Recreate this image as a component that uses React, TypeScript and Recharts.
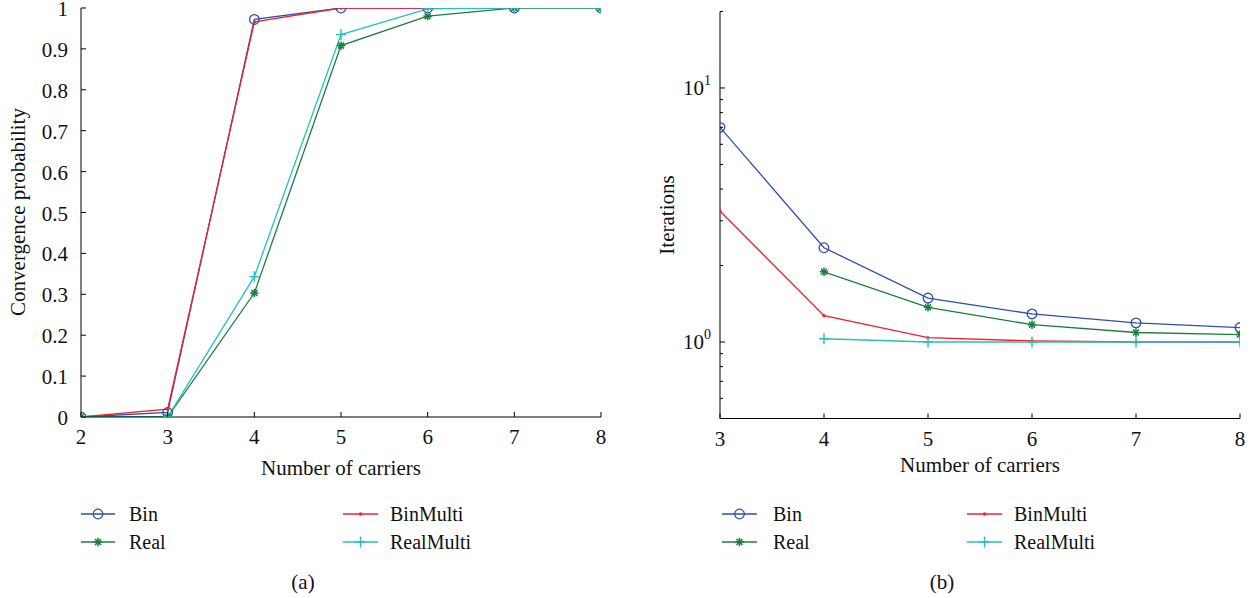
import React from 'react';
import { LineChart, Line, XAxis, YAxis, Legend } from 'recharts';

// ---------- data ----------
const carriersA = [2, 3, 4, 5, 6, 7, 8];
const binA = [0, 0.011, 0.972, 1, 1, 1, 1];
const realA = [0, 0, 0.303, 0.908, 0.98, 1, 1];
const binMultiA = [0, 0.019, 0.966, 1, 1, 1, 1];
const realMultiA = [0, 0, 0.343, 0.935, 0.998, 1, 1];
const yTicksA = [0, 0.1, 0.2, 0.3, 0.4, 0.5, 0.6, 0.7, 0.8, 0.9, 1];
const yTickLabelsA = ['0', '0.1', '0.2', '0.3', '0.4', '0.5', '0.6', '0.7', '0.8', '0.9', '1'];

const carriersB = [3, 4, 5, 6, 7, 8];
const binB = [7.0, 2.35, 1.49, 1.29, 1.19, 1.14];
const realB = [null, 1.89, 1.37, 1.17, 1.09, 1.07];
const binMultiB = [3.28, 1.27, 1.04, 1.01, 1.0, 1.0];
const realMultiB = [null, 1.03, 1.0, 1.0, 1.0, 1.0];
const yMajorTicksB = [1, 10];
const yMajorExpB = ['0', '1'];
const yMinorTicksB = [0.6, 0.7, 0.8, 0.9, 2, 3, 4, 5, 6, 7, 8, 9, 20];

const seriesNames = ['Bin', 'Real', 'BinMulti', 'RealMulti'];
const seriesKeys = ['bin', 'real', 'binMulti', 'realMulti'];

const dataA = carriersA.map((x, i) => ({
  x,
  bin: binA[i],
  real: realA[i],
  binMulti: binMultiA[i],
  realMulti: realMultiA[i],
}));
const dataB = carriersB.map((x, i) => ({
  x,
  bin: binB[i],
  real: realB[i],
  binMulti: binMultiB[i],
  realMulti: realMultiB[i],
}));

// ---------- style ----------
const FONT = '"Liberation Serif", "DejaVu Serif", "Times New Roman", serif';
const FS = 21;
const LFS = 20;
const colors: Record<string, string> = {
  Bin: '#2f4ead',
  Real: '#1b7f3c',
  BinMulti: '#f0212b',
  RealMulti: '#25c0c0',
};
const markerKind: Record<string, string> = {
  Bin: 'circle',
  Real: 'star',
  BinMulti: 'dot',
  RealMulti: 'plus',
};

const Marker = ({ kind, cx, cy, color }: any) => {
  if (cx == null || cy == null || isNaN(cx) || isNaN(cy)) return null;
  if (kind === 'circle')
    return <circle cx={cx} cy={cy} r={4.8} fill="none" stroke={color} strokeWidth={1.3} />;
  if (kind === 'dot') return <circle cx={cx} cy={cy} r={1.7} fill={color} />;
  if (kind === 'plus')
    return (
      <g stroke={color} strokeWidth={1.4}>
        <line x1={cx - 5} x2={cx + 5} y1={cy} y2={cy} />
        <line x1={cx} x2={cx} y1={cy - 5.5} y2={cy + 5.5} />
      </g>
    );
  const r = 4.2;
  const d = r * 0.7071;
  return (
    <g stroke={color} strokeWidth={1.6}>
      <line x1={cx - r} x2={cx + r} y1={cy} y2={cy} />
      <line x1={cx} x2={cx} y1={cy - r} y2={cy + r} />
      <line x1={cx - d} x2={cx + d} y1={cy - d} y2={cy + d} />
      <line x1={cx - d} x2={cx + d} y1={cy + d} y2={cy - d} />
    </g>
  );
};

const makeDot = (name: string) => (p: any) => (
  <g key={`${name}-${p.index}`}>
    {p.value == null ? null : (
      <Marker kind={markerKind[name]} cx={p.cx} cy={p.cy} color={colors[name]} />
    )}
  </g>
);

const txt = { fontFamily: FONT, fontSize: FS, fill: '#111' };
const ltxt = { fontFamily: FONT, fontSize: LFS, fill: '#111' };

// ---------- ticks ----------
const LeftYTickA = (p: any) => {
  const { x, y, payload } = p;
  const idx = yTicksA.indexOf(payload.value);
  return (
    <g>
      <line x1={x} x2={x + 5} y1={y} y2={y} stroke="#000" strokeWidth={1} />
      <text x={x - 13} y={y + 1} textAnchor="end" dominantBaseline="central" style={txt}>
        {idx >= 0 ? yTickLabelsA[idx] : ''}
      </text>
    </g>
  );
};
const RightYTick = (p: any) => {
  const { x, y, payload } = p;
  const major = !yMinorTicksB.includes(payload.value);
  const len = major ? 5 : 3;
  return <line x1={x - len} x2={x} y1={y} y2={y} stroke="#000" strokeWidth={1} />;
};
const RightYTickA = (p: any) => {
  const { x, y } = p;
  return <line x1={x - 5} x2={x} y1={y} y2={y} stroke="#000" strokeWidth={1} />;
};
const BottomXTick = (p: any) => {
  const { x, y, payload } = p;
  return (
    <g>
      <line x1={x} x2={x} y1={y - 5} y2={y} stroke="#000" strokeWidth={1} />
      <text x={x} y={y + 20} textAnchor="middle" dominantBaseline="central" style={txt}>
        {String(payload.value)}
      </text>
    </g>
  );
};
const TopXTick = (p: any) => {
  const { x, y } = p;
  return <line x1={x} x2={x} y1={y} y2={y + 5} stroke="#000" strokeWidth={1} />;
};
const LeftYTickB = (p: any) => {
  const { x, y, payload } = p;
  const mi = yMajorTicksB.indexOf(payload.value);
  const major = mi >= 0;
  const len = major ? 5 : 3;
  return (
    <g>
      <line x1={x} x2={x + len} y1={y} y2={y} stroke="#000" strokeWidth={1} />
      {major ? (
        <text x={x - 9} y={y} textAnchor="end" dominantBaseline="central" style={txt}>
          10
          <tspan dy={-8} fontSize={14}>
            {yMajorExpB[mi]}
          </tspan>
        </text>
      ) : null}
    </g>
  );
};

// ---------- legend ----------
const legendSlot: Record<string, { col: number; row: number }> = {
  Bin: { col: 0, row: 0 },
  Real: { col: 0, row: 1 },
  BinMulti: { col: 1, row: 0 },
  RealMulti: { col: 1, row: 1 },
};

const makeLegend = (cols: { x1: number; x2: number; tx: number }[], width: number) => (props: any) => {
  const payload = props.payload || [];
  return (
    <svg width={width} height={60} style={{ display: 'block', overflow: 'visible' }}>
      {payload.map((it: any) => {
        const name = String(it.value);
        const slot = legendSlot[name];
        if (!slot) return null;
        const c = cols[slot.col];
        const y = 19 + slot.row * 28;
        const col = colors[name];
        return (
          <g key={name}>
            <line x1={c.x1} x2={c.x2} y1={y} y2={y} stroke={col} strokeWidth={1.6} />
            <Marker kind={markerKind[name]} cx={(c.x1 + c.x2) / 2} cy={y} color={col} />
            <text x={c.tx} y={y} dominantBaseline="central" style={ltxt}>
              {name}
            </text>
          </g>
        );
      })}
    </svg>
  );
};

const legendA = makeLegend(
  [
    { x1: 81, x2: 115, tx: 129 },
    { x1: 343, x2: 378, tx: 390 },
  ],
  620
);
const legendB = makeLegend(
  [
    { x1: 102, x2: 137, tx: 153 },
    { x1: 347, x2: 382, tx: 394 },
  ],
  633
);

const renderLines = () =>
  seriesKeys.map((k, i) => {
    const name = seriesNames[i];
    return (
      <Line
        key={k}
        type="linear"
        dataKey={k}
        name={name}
        stroke={colors[name]}
        strokeWidth={1.3}
        dot={makeDot(name)}
        activeDot={false}
        isAnimationActive={false}
        connectNulls={false}
      />
    );
  });

const Title = ({ x, y, rotate, children }: any) => (
  <div
    style={{
      position: 'absolute',
      left: x,
      top: y,
      transform: `translate(-50%, -50%)${rotate ? ' rotate(-90deg)' : ''}`,
      fontFamily: FONT,
      fontSize: FS,
      color: '#111',
      whiteSpace: 'nowrap',
      lineHeight: 1,
    }}
  >
    {children}
  </div>
);

const yTicksB = [...yMinorTicksB, ...yMajorTicksB].sort((a, b) => a - b);

export default function App() {
  return (
    <div
      style={{
        position: 'absolute',
        left: 0,
        top: 0,
        width: 1253,
        height: 598,
        background: '#fff',
        overflow: 'hidden',
      }}
    >
      <div style={{ position: 'absolute', left: 0, top: 0 }}>
        <LineChart width={620} height={598} data={dataA} margin={{ top: 8, right: 19, left: 0, bottom: 151 }}>
          <XAxis
            dataKey="x"
            type="number"
            domain={[2, 8]}
            ticks={carriersA}
            interval={0}
            height={30}
            tickSize={0}
            tickMargin={0}
            tickLine={false}
            axisLine={{ stroke: '#000', strokeWidth: 1 }}
            tick={BottomXTick}
            allowDataOverflow
          />
          <XAxis
            xAxisId="top"
            orientation="top"
            type="number"
            domain={[2, 8]}
            ticks={carriersA}
            interval={0}
            height={0}
            tickSize={0}
            tickMargin={0}
            tickLine={false}
            axisLine={{ stroke: '#000', strokeWidth: 1 }}
            tick={TopXTick}
            allowDataOverflow
          />
          <YAxis
            type="number"
            domain={[0, 1]}
            ticks={yTicksA}
            interval={0}
            width={81}
            tickSize={0}
            tickMargin={0}
            tickLine={false}
            axisLine={{ stroke: '#000', strokeWidth: 1 }}
            tick={LeftYTickA}
            allowDataOverflow
          />
          <YAxis
            yAxisId="right"
            orientation="right"
            type="number"
            domain={[0, 1]}
            ticks={yTicksA}
            interval={0}
            width={0}
            tickSize={0}
            tickMargin={0}
            tickLine={false}
            axisLine={{ stroke: '#000', strokeWidth: 1 }}
            tick={RightYTickA}
            allowDataOverflow
          />
          {renderLines()}
          <Legend
            layout="horizontal"
            verticalAlign="middle"
            align="center"
            content={legendA}
            wrapperStyle={{ position: 'absolute', left: 0, top: 495, width: 620, height: 60 }}
          />
        </LineChart>
      </div>
      <div style={{ position: 'absolute', left: 620, top: 0 }}>
        <LineChart width={633} height={598} data={dataB} margin={{ top: 11.5, right: 13, left: 0, bottom: 149.5 }}>
          <XAxis
            dataKey="x"
            type="number"
            domain={[3, 8]}
            ticks={carriersB}
            interval={0}
            height={30}
            tickSize={0}
            tickMargin={0}
            tickLine={false}
            axisLine={{ stroke: '#000', strokeWidth: 1 }}
            tick={BottomXTick}
            allowDataOverflow
          />
          <XAxis
            xAxisId="top"
            orientation="top"
            type="number"
            domain={[3, 8]}
            ticks={carriersB}
            interval={0}
            height={0}
            tickSize={0}
            tickMargin={0}
            tickLine={false}
            axisLine={{ stroke: '#000', strokeWidth: 1 }}
            tick={TopXTick}
            allowDataOverflow
          />
          <YAxis
            type="number"
            scale="log"
            domain={[0.5, 20]}
            ticks={yTicksB}
            interval={0}
            width={100}
            tickSize={0}
            tickMargin={0}
            tickLine={false}
            axisLine={{ stroke: '#000', strokeWidth: 1 }}
            tick={LeftYTickB}
            allowDataOverflow
          />
          <YAxis
            yAxisId="right"
            orientation="right"
            type="number"
            scale="log"
            domain={[0.5, 20]}
            ticks={yTicksB}
            interval={0}
            width={0}
            tickSize={0}
            tickMargin={0}
            tickLine={false}
            axisLine={{ stroke: '#000', strokeWidth: 1 }}
            tick={RightYTick}
            allowDataOverflow
          />
          {renderLines()}
          <Legend
            layout="horizontal"
            verticalAlign="middle"
            align="center"
            content={legendB}
            wrapperStyle={{ position: 'absolute', left: 0, top: 495, width: 633, height: 60 }}
          />
        </LineChart>
      </div>
      <Title x={18} y={212} rotate>
        Convergence probability
      </Title>
      <Title x={341} y={468}>Number of carriers</Title>
      <Title x={667} y={215} rotate>
        Iterations
      </Title>
      <Title x={980} y={465}>Number of carriers</Title>
      <Title x={303} y={582}>(a)</Title>
      <Title x={942} y={582}>(b)</Title>
    </div>
  );
}
